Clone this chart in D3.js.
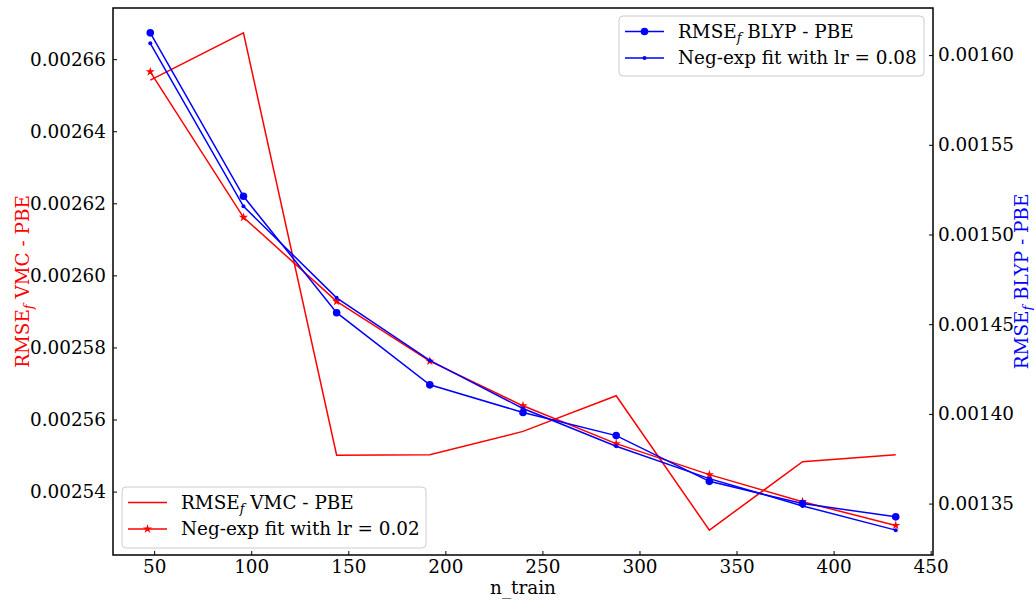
<!DOCTYPE html>
<html><head><meta charset="utf-8">
<script src="https://cdn.jsdelivr.net/npm/d3@7"></script>
<style>
body{margin:0;background:#fff}
text{font-family:"DejaVu Serif",serif}
</style>
</head><body>
<svg id="chart" width="1034" height="600"></svg>
<script>
// ---- data ----
const nTrain   = [48, 96, 144, 192, 240, 288, 336, 384, 432];
const vmcData  = [0.0026542, 0.0026673, 0.0025501, 0.0025502, 0.0025567, 0.0025666, 0.0025293, 0.0025483, 0.0025502];
const vmcFit   = [0.0026565, 0.0026161, 0.0025928, 0.0025762, 0.0025638, 0.0025533, 0.0025447, 0.0025372, 0.0025306];
const blypData = [0.0016124, 0.0015213, 0.0014564, 0.0014162, 0.0014008, 0.0013879, 0.0013624, 0.0013500, 0.0013426];
const blypFit  = [0.0016066, 0.0015157, 0.0014647, 0.0014298, 0.0014030, 0.0013820, 0.0013639, 0.0013487, 0.0013352];
const xTicks     = [50, 100, 150, 200, 250, 300, 350, 400, 450];
const leftTicks  = [0.00254, 0.00256, 0.00258, 0.00260, 0.00262, 0.00264, 0.00266];
const rightTicks = [0.00135, 0.00140, 0.00145, 0.00150, 0.00155, 0.00160];
const xLabel = "n_train";

// ---- layout ----
const L = 113, R = 933, T = 8, B = 555;
const FS = 18.4;
const svg = d3.select("#chart");

function padded(vals){
  const lo = d3.min(vals), hi = d3.max(vals), r = hi - lo;
  return [lo - 0.05*r, hi + 0.05*r];
}
const x  = d3.scaleLinear().domain(padded(nTrain)).range([L, R]);
const yL = d3.scaleLinear().domain(padded(vmcData.concat(vmcFit))).range([B, T]);
const yR = d3.scaleLinear().domain(padded(blypData.concat(blypFit))).range([B, T]);

// ---- axes ----
function styleAxis(g){
  g.select(".domain").remove();
  g.selectAll(".tick line").attr("stroke","#000").attr("stroke-width",1);
  g.selectAll(".tick text").attr("font-size",FS).attr("font-family","DejaVu Serif").attr("fill","#000");
}
svg.append("g").attr("transform",`translate(0,${B})`)
  .call(d3.axisBottom(x).tickValues(xTicks).tickSizeInner(-4).tickSizeOuter(0).tickPadding(5))
  .call(styleAxis);
svg.append("g").attr("transform",`translate(${L},0)`)
  .call(d3.axisLeft(yL).tickValues(leftTicks).tickFormat(d3.format(".5f")).tickSizeInner(-4).tickSizeOuter(0).tickPadding(7))
  .call(styleAxis);
svg.append("g").attr("transform",`translate(${R},0)`)
  .call(d3.axisRight(yR).tickValues(rightTicks).tickFormat(d3.format(".5f")).tickSizeInner(-4).tickSizeOuter(0).tickPadding(5))
  .call(styleAxis);

// ---- lines ----
const pts = (ys) => nTrain.map((n,i)=>[n, ys[i]]);
function drawLine(data, yScale, color){
  const line = d3.line().x(d=>x(d[0])).y(d=>yScale(d[1]));
  svg.append("path").datum(data).attr("d",line)
    .attr("fill","none").attr("stroke",color).attr("stroke-width",1.5).attr("stroke-linejoin","miter");
}
const starPath = d3.symbol(d3.symbolStar, 26)();

// red (left axis)
drawLine(pts(vmcData), yL, "#ff0000");
drawLine(pts(vmcFit), yL, "#ff0000");
svg.append("g").selectAll("path").data(pts(vmcFit)).join("path")
  .attr("d", starPath).attr("transform", d=>`translate(${x(d[0])},${yL(d[1])})`)
  .attr("fill","#ff0000");

// blue (right axis)
drawLine(pts(blypData), yR, "#0000ff");
svg.append("g").selectAll("circle").data(pts(blypData)).join("circle")
  .attr("cx",d=>x(d[0])).attr("cy",d=>yR(d[1])).attr("r",3.8).attr("fill","#0000ff");
drawLine(pts(blypFit), yR, "#0000ff");
svg.append("g").selectAll("circle").data(pts(blypFit)).join("circle")
  .attr("cx",d=>x(d[0])).attr("cy",d=>yR(d[1])).attr("r",2).attr("fill","#0000ff");

// ---- frame ----
svg.append("rect").attr("x",L).attr("y",T).attr("width",R-L).attr("height",B-T)
  .attr("fill","none").attr("stroke","#000").attr("stroke-width",1.5);

// ---- labels ----
function rmseLabel(sel, rest){
  sel.append("tspan").text("RMSE");
  sel.append("tspan").text("f").attr("font-style","italic").attr("font-size",FS*0.7).attr("dy",4);
  sel.append("tspan").text(" " + rest).attr("dy",-4);
}
svg.append("text").attr("x",(L+R)/2).attr("y",594).attr("text-anchor","middle")
  .attr("font-size",FS).text(xLabel);
svg.append("text").attr("transform",`translate(29,${(T+B)/2}) rotate(-90)`)
  .attr("text-anchor","middle").attr("font-size",FS).attr("fill","#ff0000")
  .call(s=>rmseLabel(s,"VMC - PBE"));
svg.append("text").attr("transform",`translate(1028,${(T+B)/2}) rotate(-90)`)
  .attr("text-anchor","middle").attr("font-size",FS).attr("fill","#0000ff")
  .call(s=>rmseLabel(s,"BLYP - PBE"));

// ---- legends ----
function legend(x0, y0, w, h, rows){
  const g = svg.append("g");
  g.append("rect").attr("x",x0).attr("y",y0).attr("width",w).attr("height",h).attr("rx",4)
    .attr("fill","#fff").attr("fill-opacity",0.8).attr("stroke","#cccccc").attr("stroke-width",1);
  rows.forEach((r,i)=>{
    const cy = y0 + 15.5 + i*26.5;
    g.append("line").attr("x1",x0+6).attr("x2",x0+45).attr("y1",cy).attr("y2",cy)
      .attr("stroke",r.color).attr("stroke-width",1.5);
    if(r.marker==="big") g.append("circle").attr("cx",x0+25.5).attr("cy",cy).attr("r",3.8).attr("fill",r.color);
    if(r.marker==="small") g.append("circle").attr("cx",x0+25.5).attr("cy",cy).attr("r",2).attr("fill",r.color);
    if(r.marker==="star") g.append("path").attr("d",starPath).attr("transform",`translate(${x0+25.5},${cy})`).attr("fill",r.color);
    const t = g.append("text").attr("x",x0+59).attr("y",cy).attr("dy","0.35em").attr("font-size",FS).attr("fill","#000");
    if(r.rmse) rmseLabel(t, r.label); else t.text(r.label);
  });
}
legend(619, 16, 305, 60, [
  {color:"#0000ff", marker:"big", rmse:true, label:"BLYP - PBE"},
  {color:"#0000ff", marker:"small", rmse:false, label:"Neg-exp fit with lr = 0.08"}
]);
legend(122, 487, 304, 61, [
  {color:"#ff0000", marker:"none", rmse:true, label:"VMC - PBE"},
  {color:"#ff0000", marker:"star", rmse:false, label:"Neg-exp fit with lr = 0.02"}
]);
</script>
</body></html>
